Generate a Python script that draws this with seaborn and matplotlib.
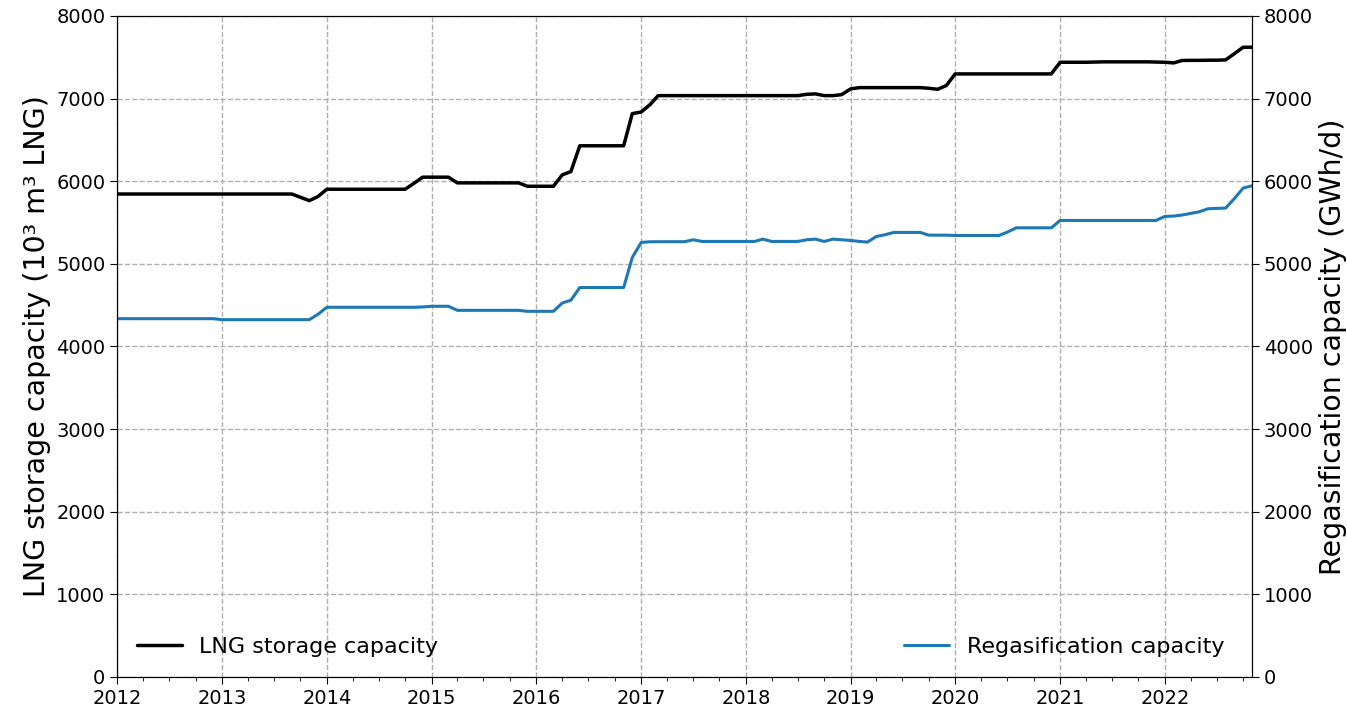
import numpy as np
import pandas as pd
import matplotlib
matplotlib.use("Agg")
import matplotlib.pyplot as plt
import matplotlib.dates as mdates
import seaborn as sns

# monthly values, Jan 2012 - Nov 2022
dates = pd.date_range("2012-01-01", "2022-11-01", freq="MS")

storage = [
    5845, 5845, 5845, 5845, 5845, 5845, 5845, 5845, 5845, 5845, 5845, 5845,  # 2012
    5845, 5845, 5845, 5845, 5845, 5845, 5845, 5845, 5845, 5805, 5765, 5814,  # 2013
    5903, 5903, 5903, 5903, 5903, 5903, 5903, 5903, 5903, 5903, 5975, 6049,  # 2014
    6049, 6049, 6049, 5980, 5980, 5980, 5980, 5980, 5980, 5980, 5980, 5939,  # 2015
    5939, 5939, 5939, 6077, 6117, 6429, 6429, 6429, 6429, 6429, 6429, 6818,  # 2016
    6838, 6927, 7036, 7036, 7036, 7036, 7036, 7036, 7036, 7036, 7036, 7036,  # 2017
    7036, 7036, 7036, 7036, 7036, 7036, 7036, 7052, 7057, 7036, 7036, 7048,  # 2018
    7117, 7133, 7133, 7133, 7133, 7133, 7133, 7133, 7133, 7125, 7113, 7158,  # 2019
    7299, 7299, 7299, 7299, 7299, 7299, 7299, 7299, 7299, 7299, 7299, 7299,  # 2020
    7440, 7440, 7440, 7440, 7443, 7445, 7445, 7445, 7445, 7445, 7445, 7442,  # 2021
    7440, 7432, 7461, 7463, 7463, 7465, 7465, 7469, 7545, 7622, 7622,        # 2022
]

regas = [
    4336, 4336, 4336, 4336, 4336, 4336, 4336, 4336, 4336, 4336, 4336, 4336,  # 2012
    4324, 4324, 4324, 4324, 4324, 4324, 4324, 4324, 4324, 4324, 4324, 4389,  # 2013
    4474, 4474, 4474, 4474, 4474, 4474, 4474, 4474, 4474, 4474, 4474, 4478,  # 2014
    4486, 4486, 4486, 4437, 4437, 4437, 4437, 4437, 4437, 4437, 4437, 4425,  # 2015
    4425, 4425, 4425, 4526, 4559, 4713, 4713, 4713, 4713, 4713, 4713, 5077,  # 2016
    5259, 5267, 5268, 5268, 5268, 5268, 5291, 5271, 5271, 5271, 5271, 5271,  # 2017
    5271, 5271, 5299, 5271, 5271, 5271, 5271, 5291, 5299, 5271, 5299, 5291,  # 2018
    5283, 5271, 5263, 5331, 5352, 5380, 5380, 5380, 5380, 5347, 5347, 5347,  # 2019
    5343, 5343, 5343, 5343, 5343, 5343, 5384, 5436, 5436, 5436, 5436, 5436,  # 2020
    5525, 5525, 5525, 5525, 5525, 5525, 5525, 5525, 5525, 5525, 5525, 5525,  # 2021
    5574, 5578, 5590, 5610, 5630, 5667, 5671, 5675, 5792, 5917, 5945,        # 2022
]

df = pd.DataFrame({"date": dates, "storage": storage, "regas": regas})

sns.set_style("ticks")
plt.rcParams["font.family"] = ["DejaVu Sans"]
plt.rcParams.update({"text.color": "black", "axes.labelcolor": "black",
                     "xtick.color": "black", "ytick.color": "black",
                     "axes.edgecolor": "black"})

fig, ax = plt.subplots(figsize=(13.47, 7.11), dpi=100)
fig.subplots_adjust(left=0.087, right=0.9295, top=0.9775, bottom=0.048)

sns.lineplot(data=df, x="date", y="storage", ax=ax, color="black",
             linewidth=2.5, label="LNG storage capacity")
ax2 = ax.twinx()
sns.lineplot(data=df, x="date", y="regas", ax=ax2, color="#1f77b4",
             linewidth=2.2, label="Regasification capacity")

for a in (ax, ax2):
    a.set_ylim(0, 8000)
    a.set_yticks(np.arange(0, 8001, 1000))
    a.tick_params(axis="both", labelsize=14, length=5)

ax.set_xlim(dates[0], dates[-1])
ax.xaxis.set_major_locator(mdates.YearLocator())
ax.xaxis.set_major_formatter(mdates.DateFormatter("%Y"))
ax.xaxis.set_minor_locator(mdates.MonthLocator(bymonth=[4, 7, 10]))
ax.tick_params(axis="x", which="minor", length=3)

ax.grid(True, which="major", linestyle="--", color="#b0b0b0", linewidth=1)

ax.set_xlabel("")
ax.set_ylabel("LNG storage capacity (10³ m³ LNG)", fontsize=20.5)
ax2.set_ylabel("Regasification capacity (GWh/d)", fontsize=20.5)

ax.legend(loc="lower left", frameon=False, fontsize=16, borderaxespad=0.5)
ax2.legend(loc="lower right", frameon=False, fontsize=16, borderaxespad=0.5,
           bbox_to_anchor=(0.993, 0))

fig.savefig("out.png", dpi=100)
